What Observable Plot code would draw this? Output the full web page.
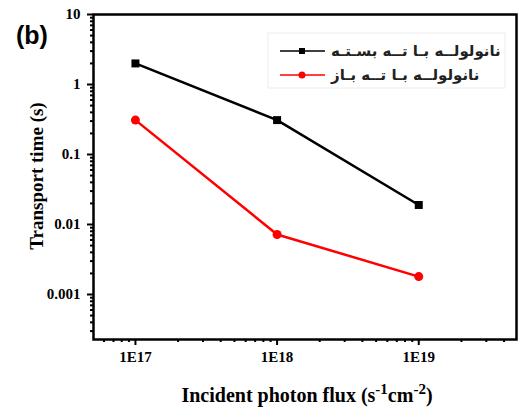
<!DOCTYPE html>
<html>
<head>
<meta charset="utf-8">
<script src="https://cdn.jsdelivr.net/npm/d3@7"></script>
<script src="https://cdn.jsdelivr.net/npm/@observablehq/plot@0.6"></script>
<style>
  html, body { margin: 0; padding: 0; background: #fff; }
  #chart { position: relative; width: 518px; height: 408px; }
</style>
</head>
<body>
<div id="chart"></div>
<script>
// ---- data ----
const flux = [1e17, 1e18, 1e19];
const closedEnd = [2.0, 0.31, 0.019];
const openEnd = [0.31, 0.0072, 0.0018];
const seriesNames = ["نانولولــه بـا تــه بسـتـه", "نانولولــه بـا تــه بـاز"];
const seriesColors = ["#000000", "#ff0000"];
const xTickValues = [1e17, 1e18, 1e19];
const xTickLabels = ["1E17", "1E18", "1E19"];
const yTickValues = [10, 1, 0.1, 0.01, 0.001];
const yTickLabels = ["10", "1", "0.1", "0.01", "0.001"];
const xLabel = "Incident photon flux";
const yLabel = "Transport time (s)";
const panelLabel = "(b)";

// derived tables
const closedRows = flux.map((f, i) => ({flux: f, t: closedEnd[i]}));
const openRows = flux.map((f, i) => ({flux: f, t: openEnd[i]}));
const minorX = [];
for (let e = 16; e <= 19; e++) for (let m = 2; m <= 9; m++) minorX.push(m * Math.pow(10, e));
const minorY = [];
for (let e = -4; e <= 0; e++) for (let m = 2; m <= 9; m++) minorY.push(m * Math.pow(10, e));

const xDomain = [Math.pow(10, 16.704), Math.pow(10, 19.69)];
const yDomain = [Math.pow(10, -3.643), 10];
const inX = v => v >= xDomain[0] && v <= xDomain[1];
const inY = v => v >= yDomain[0] && v <= yDomain[1];

const serif = "'Liberation Serif', 'DejaVu Serif', serif";

const plot = Plot.plot({
  width: 518,
  height: 408,
  marginLeft: 93,
  marginRight: 2,
  marginTop: 14,
  marginBottom: 69,
  style: {background: "#fff", fontFamily: serif, fontWeight: "900", fontSize: "15px", color: "#000"},
  x: {type: "log", domain: xDomain},
  y: {type: "log", domain: yDomain},
  marks: [
    Plot.axisX({ticks: xTickValues, tickFormat: d => xTickLabels[xTickValues.indexOf(d)], tickSize: 6, tickPadding: 6, strokeWidth: 2, label: null, fontSize: 15}),
    Plot.axisX({ticks: minorX.filter(inX), tickFormat: () => "", tickSize: 3, strokeWidth: 2, label: null}),
    Plot.axisY({ticks: yTickValues, tickFormat: d => yTickLabels[yTickValues.indexOf(d)], tickSize: 6, tickPadding: 7, strokeWidth: 2, label: null, fontSize: 15}),
    Plot.axisY({ticks: minorY.filter(inY), tickFormat: () => "", tickSize: 3, strokeWidth: 2, label: null}),
    Plot.frame({stroke: "#000", strokeWidth: 2.5}),
    Plot.line(closedRows, {x: "flux", y: "t", stroke: seriesColors[0], strokeWidth: 2.5}),
    Plot.dot(closedRows, {x: "flux", y: "t", symbol: "square", fill: seriesColors[0], r: 4.5}),
    Plot.line(openRows, {x: "flux", y: "t", stroke: seriesColors[1], strokeWidth: 2.5}),
    Plot.dot(openRows, {x: "flux", y: "t", fill: seriesColors[1], r: 4.5})
  ]
});

const svg = d3.select(plot);

// axis titles
svg.append("text")
  .attr("transform", "translate(43,176) rotate(-90)")
  .attr("text-anchor", "middle")
  .attr("font-family", serif).attr("font-weight", "900").attr("font-size", 19)
  .text(yLabel);

const xt = svg.append("text")
  .attr("x", 307).attr("y", 402)
  .attr("text-anchor", "middle")
  .attr("font-family", serif).attr("font-weight", "900").attr("font-size", 20);
xt.append("tspan").text(xLabel + " (s");
xt.append("tspan").attr("dy", -8).attr("font-size", 15).text("-1");
xt.append("tspan").attr("dy", 8).text("cm");
xt.append("tspan").attr("dy", -8).attr("font-size", 15).text("-2");
xt.append("tspan").attr("dy", 8).text(")");

// panel label
svg.append("text")
  .attr("x", 16).attr("y", 44)
  .attr("text-anchor", "start")
  .attr("font-family", "'Liberation Sans', Arial, sans-serif").attr("font-weight", "900").attr("font-size", 25)
  .text(panelLabel);

// legend
const lg = svg.append("g");
lg.append("rect").attr("x", 268).attr("y", 33).attr("width", 237).attr("height", 55)
  .attr("fill", "#fff").attr("stroke", "#ececec").attr("stroke-width", 1);
seriesNames.forEach((name, i) => {
  const cy = 51 + i * 24;
  lg.append("line").attr("x1", 280).attr("x2", 325).attr("y1", cy).attr("y2", cy)
    .attr("stroke", seriesColors[i]).attr("stroke-width", 1.5);
  if (i === 0) {
    lg.append("rect").attr("x", 299).attr("y", cy - 3).attr("width", 6).attr("height", 6).attr("fill", seriesColors[i]);
  } else {
    lg.append("circle").attr("cx", 302).attr("cy", cy).attr("r", 3.5).attr("fill", seriesColors[i]);
  }
  lg.append("text").attr("x", 331).attr("y", cy + 5)
    .attr("text-anchor", "start")
    .attr("font-family", "'DejaVu Sans', 'Noto Sans', sans-serif").attr("font-weight", "bold").attr("font-size", 15)
    .attr("fill", "#222")
    .text(name);
});

document.getElementById("chart").appendChild(plot);
</script>
</body>
</html>
